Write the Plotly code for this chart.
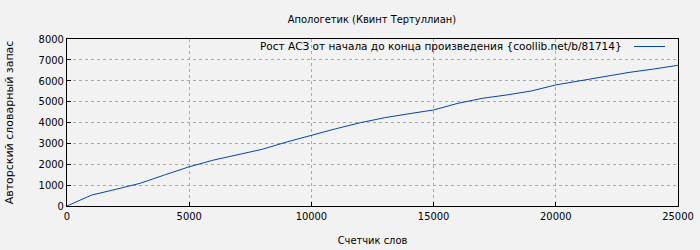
import plotly.graph_objects as go

words = [0, 1000, 2000, 3000, 4000, 5000, 6000, 7000, 8000, 9000, 10000, 11000, 12000,
         13000, 14000, 15000, 16000, 17000, 18000, 19000, 20000, 21000, 22000, 23000, 24000, 25000]
vocab = [0, 520, 800, 1090, 1490, 1880, 2200, 2470, 2720, 3070, 3400, 3700, 3990,
         4230, 4420, 4600, 4920, 5160, 5320, 5510, 5800, 6000, 6190, 6400, 6560, 6740]
x_ticks = [0, 5000, 10000, 15000, 20000, 25000]
y_ticks = [0, 1000, 2000, 3000, 4000, 5000, 6000, 7000, 8000]

title = "Апологетик (Квинт Тертуллиан)"
legend_label = "Рост АСЗ от начала до конца произведения {coollib.net/b/81714}"
line_color = "#0645ad"
bg = "#f2f2f2"
cond = "DejaVu Sans Condensed, DejaVu Sans, sans-serif"
reg = "DejaVu Sans, sans-serif"

fig = go.Figure()
fig.add_trace(go.Scatter(x=words, y=vocab, mode="lines",
                         line=dict(color=line_color, width=1),
                         name=legend_label, showlegend=False))

axis_common = dict(showline=True, linecolor="black", linewidth=1, mirror=True,
                   showgrid=True, gridcolor="#a8a8a8", griddash="dot", gridwidth=1,
                   ticks="inside", ticklen=4, tickcolor="black", zeroline=False,
                   automargin=False,
                   tickfont=dict(family=cond, size=11, color="black"))

fig.update_xaxes(range=[0, 25000], tickvals=x_ticks, ticktext=[str(v) for v in x_ticks],
                 title=dict(text="Счетчик слов", font=dict(family=cond, size=11, color="black"), standoff=14),
                 **axis_common)
fig.update_yaxes(range=[0, 8000], tickvals=y_ticks, ticktext=[str(v) for v in y_ticks],
                 title=dict(text="Авторский словарный запас", font=dict(family=reg, size=11, color="black"), standoff=22),
                 **axis_common)

fig.add_annotation(text=legend_label, xref="paper", yref="paper", x=(624-67)/611, y=1 - (46.5-39)/167,
                   xanchor="right", yanchor="middle", showarrow=False,
                   font=dict(family=reg, size=10.5, color="black"))
fig.add_shape(type="line", xref="paper", yref="paper",
              x0=(634-67)/611, x1=(665-67)/611, y0=1 - (46.5-39)/167, y1=1 - (46.5-39)/167,
              line=dict(color=line_color, width=1))

fig.update_layout(
    width=700, height=250,
    margin=dict(l=67, r=22, t=39, b=44),
    paper_bgcolor=bg, plot_bgcolor=bg,
    title=dict(text=title, x=372/700, xanchor="center", y=1 - 19/250, yanchor="middle",
               font=dict(family=cond, size=11, color="black")),
    showlegend=False,
)

fig.write_html("out.html")
